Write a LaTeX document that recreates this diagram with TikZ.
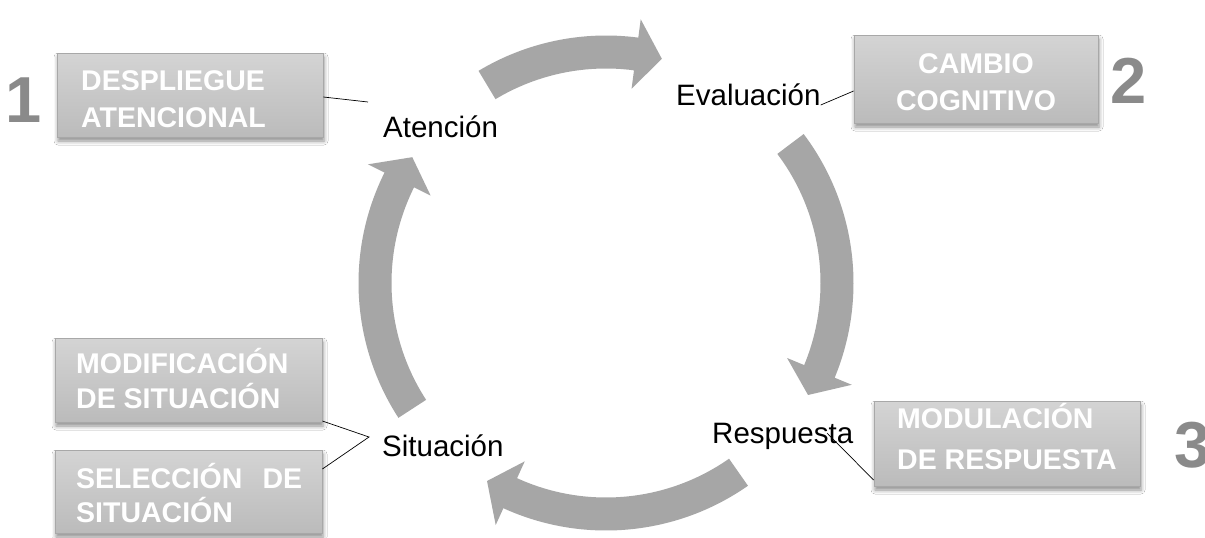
\documentclass[tikz,border=0pt]{standalone}
\usepackage{fontspec}
\setmainfont{Liberation Sans}
\usetikzlibrary{shadows.blur}

\definecolor{arrowgray}{HTML}{A6A6A6}
\definecolor{boxtop}{HTML}{D4D4D4}
\definecolor{boxbottom}{HTML}{BBBBBB}
\definecolor{boxline}{HTML}{A8A8A8}
\definecolor{digitgray}{HTML}{8A8A8A}

% curved cycle arrow around the current origin: #1 tail angle, #2 tip angle
\newcommand\cyclearrow[2]{%
  \pgfmathsetmacro\barbangle{#2+6.5}%
  \fill[arrowgray] (#1:247.5pt) arc[start angle=#1, end angle=\barbangle, radius=247.5pt]
    -- (\barbangle:266pt) -- (#2:231pt) -- (\barbangle:196pt)
    -- (\barbangle:214.5pt) arc[start angle=\barbangle, end angle=#1, radius=214.5pt] -- cycle;}

% two stacked lines with a fixed baseline distance
\newcommand\twolines[3]{\vtop{\baselineskip=#1\lineskiplimit=-\maxdimen\hbox{#2}\hbox{#3}}}

\begin{document}
\begin{tikzpicture}[x=1pt, y=1pt,
  stagebox/.style={draw=boxline, line width=0.8pt, top color=boxtop, bottom color=boxbottom,
    inner sep=0pt, blur shadow={shadow xshift=1pt, shadow yshift=-4pt, shadow blur radius=4pt, shadow opacity=45}},
  boxtext/.style={text=white, font=\fontsize{28.5}{34}\selectfont\bfseries, inner sep=0pt},
  stagelabel/.style={font=\fontsize{29.5}{34}\selectfont, inner sep=0pt, anchor=base west},
  stagenum/.style={text=digitgray, font=\fontsize{65}{65}\selectfont\bfseries, inner sep=0pt, anchor=base},
  connector/.style={draw=black, line width=0.7pt}]

\useasboundingbox (0,0) rectangle (1205,-538);
\fill[white] (0,0) rectangle (1205,-538);

% the four arrows of the cycle
\begin{scope}[shift={(606,-283)}]
  \cyclearrow{121}{76}
  \cyclearrow{37}{-29}
  \cyclearrow{-55}{-121}
  \cyclearrow{213}{147}
\end{scope}

% stage labels on the cycle
\node[stagelabel] (aten) at (383,-137) {Atención};
\node[stagelabel] (eval) at (676,-105) {Evaluación};
\node[stagelabel] (resp) at (712,-443) {Respuesta};
\node[stagelabel] (situ) at (382,-456) {Situación};

% strategy boxes
\node[stagebox, minimum width=266, minimum height=84] (despl) at (190,-95) {};
\node[boxtext, anchor=base west] (despl-t) at (81,-90) {\twolines{37pt}{DESPLIEGUE}{ATENCIONAL}};

\node[stagebox, minimum width=244, minimum height=88] (cambio) at (976,-79) {};
\node[boxtext, anchor=base] (cambio-t) at (976,-73)
  {\twolines{37pt}{\hbox to 0pt{\hss CAMBIO\hss}}{\hbox to 0pt{\hss COGNITIVO\hss}}};

\node[stagebox, minimum width=266, minimum height=85] (modul) at (1007,-443.5) {};
\node[boxtext, anchor=base west] (modul-t) at (897,-428) {\twolines{41pt}{MODULACIÓN}{DE RESPUESTA}};

\node[stagebox, minimum width=267, minimum height=84] (modif) at (188.5,-380) {};
\node[boxtext, anchor=base west] (modif-t) at (76,-373) {\twolines{35pt}{MODIFICACIÓN}{DE SITUACIÓN}};

\node[stagebox, minimum width=267, minimum height=83] (selec) at (188.5,-491.5) {};
\node[boxtext, anchor=base west] (selec-t) at (76,-488)
  {\twolines{34pt}{\hbox to 226pt{SELECCIÓN\hfil DE}}{SITUACIÓN}};

% step numbers
\node[stagenum] (n1) at (24,-122) {1};
\node[stagenum] (n2) at (1129,-103) {2};
\node[stagenum] (n3) at (1193,-467) {3};

% connectors between labels and boxes
\coordinate (aten-tie) at (368,-102);
\coordinate (resp-tie) at (827,-433);
\coordinate (situ-tie) at (369,-437);
\draw[connector] ([yshift=-2pt]despl.east) -- (aten-tie);
\draw[connector] (eval.base east) -- ([yshift=-12pt]cambio.west);
\draw[connector] (resp-tie) -- ([yshift=-36.5pt]modul.west);
\draw[connector] ([yshift=-41pt]modif.east) -- (situ-tie) -- ([yshift=22.5pt]selec.east);
\end{tikzpicture}
\end{document}
